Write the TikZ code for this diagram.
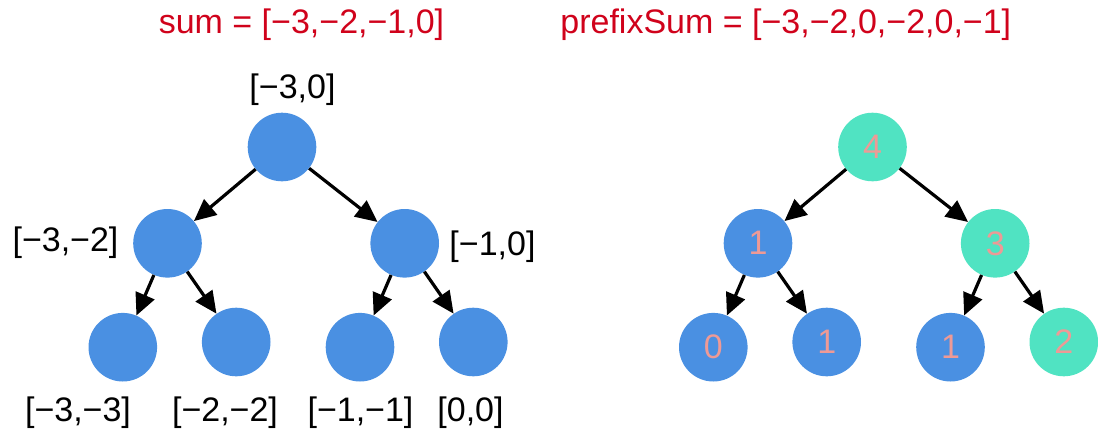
\documentclass[tikz,border=0pt]{standalone}
\usepackage{fontspec}
\setmainfont{Liberation Sans}
\usetikzlibrary{arrows.meta}
\definecolor{nblue}{HTML}{4A90E2}
\definecolor{nteal}{HTML}{50E3C2}
\definecolor{tred}{HTML}{D0021B}
\definecolor{tpink}{HTML}{EE9A96}
\begin{document}
\begin{tikzpicture}[x=1pt,y=-1pt,
  bnode/.style={circle,fill=nblue,minimum size=68.6pt,inner sep=0pt,text=tpink,font=\fontsize{34}{40}\selectfont},
  tnode/.style={bnode,fill=nteal},
  lbl/.style={inner sep=0pt,font=\fontsize{34}{40}\selectfont},
  ttl/.style={lbl,text=tred},
  arr/.style={-{Triangle[length=22pt,width=20pt]},line width=3.2pt}]
\useasboundingbox (0,0) rectangle (1098,436);

% titles
\node[ttl] (t1) at (301.5,25) {sum = [−3,−2,−1,0]};
\node[ttl] (t2) at (785.8,25) {prefixSum = [−3,−2,0,−2,0,−1]};

% left tree
\node[bnode] (r)  at (282,147) {};
\node[bnode] (l)  at (167.5,243.3) {};
\node[bnode] (rr) at (404.7,243.3) {};
\node[bnode] (ll) at (122.8,347.2) {};
\node[bnode] (lr) at (236.2,342) {};
\node[bnode] (rl) at (360,347.2) {};
\node[bnode] (rx) at (473.3,342) {};

\node[lbl] (lab-r)  at (292.5,90) {[−3,0]};
\node[lbl] (lab-l)  at (65.5,243) {[−3,−2]};
\node[lbl] (lab-rr) at (492.5,246.5) {[−1,0]};
\node[lbl] (lab-ll) at (78,413) {[−3,−3]};
\node[lbl] (lab-lr) at (225,413) {[−2,−2]};
\node[lbl] (lab-rl) at (360.5,413) {[−1,−1]};
\node[lbl] (lab-rx) at (470.5,413) {[0,0]};

\draw[arr] (r) -- (l);
\draw[arr] (r) -- (rr);
\draw[arr] (l) -- (ll);
\draw[arr] (l) -- (lr);
\draw[arr] (rr) -- (rl);
\draw[arr] (rr) -- (rx);

% right tree
\node[tnode] (R)  at (872.5,147) {4};
\node[bnode] (L)  at (758,243.3) {1};
\node[tnode] (RR) at (995.2,243.3) {3};
\node[bnode] (LL) at (713.3,347.2) {0};
\node[bnode] (LR) at (826.7,342) {1};
\node[bnode] (RL) at (950.5,347.2) {1};
\node[tnode] (RX) at (1063.8,342) {2};

\draw[arr] (R) -- (L);
\draw[arr] (R) -- (RR);
\draw[arr] (L) -- (LL);
\draw[arr] (L) -- (LR);
\draw[arr] (RR) -- (RL);
\draw[arr] (RR) -- (RX);
\end{tikzpicture}
\end{document}
